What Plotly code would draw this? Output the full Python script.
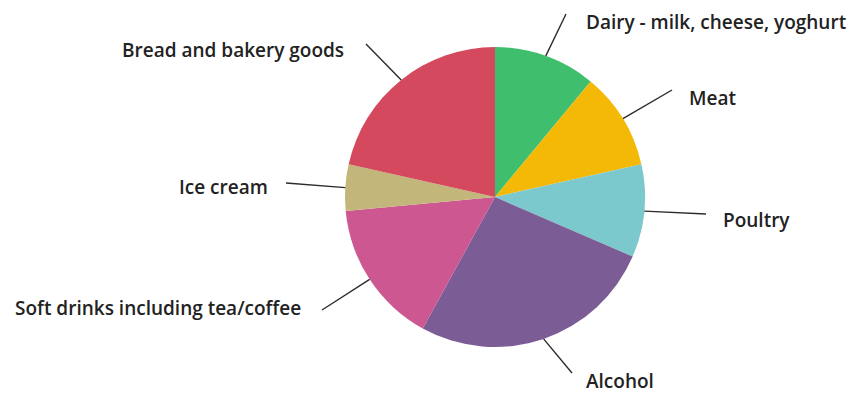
import math
import plotly.graph_objects as go

# Share of spending by food and drink category (%)
categories = [
    "Dairy - milk, cheese, yoghurt",
    "Meat",
    "Poultry",
    "Alcohol",
    "Soft drinks including tea/coffee",
    "Ice cream",
    "Bread and bakery goods",
]
shares = [11.0, 10.5, 10.0, 26.5, 15.5, 5.0, 21.5]
colors = ["#3fbf6d", "#f4b806", "#7bc9cd", "#7b5c95", "#cd5791", "#c3b67a", "#d4495d"]

W, H = 851, 394
CX, CY, R = 495, 197, 150  # pie centre and radius in pixels

# label placement: (line end x, line end y, text x, text y, anchor)
label_layout = [
    (566, 14, 584, 22, "left"),
    (672, 90, 687, 98, "left"),
    (706, 214, 721, 220, "left"),
    (572, 373, 584, 381, "left"),
    (322, 310, 303, 308, "right"),
    (286, 183, 270, 187, "right"),
    (366, 44, 346, 50, "right"),
]

fig = go.Figure(
    go.Pie(
        labels=categories,
        values=shares,
        sort=False,
        direction="clockwise",
        rotation=0,
        marker=dict(colors=colors, line=dict(width=0)),
        textinfo="none",
        hoverinfo="label+percent",
        domain=dict(x=[(CX - R) / W, (CX + R) / W], y=[1 - (CY + R) / H, 1 - (CY - R) / H]),
        showlegend=False,
    )
)


def px_to_paper(x, y):
    return x / W, 1 - y / H


total = sum(shares)
cum = 0.0
shapes, annotations = [], []
for name, val, (lx, ly, tx, ty, anchor) in zip(categories, shares, label_layout):
    mid = (cum + val / 2) / total * 2 * math.pi
    cum += val
    ex = CX + R * math.sin(mid)
    ey = CY - R * math.cos(mid)
    x0, y0 = px_to_paper(ex, ey)
    x1, y1 = px_to_paper(lx, ly)
    shapes.append(dict(type="line", xref="paper", yref="paper", x0=x0, y0=y0, x1=x1, y1=y1,
                       line=dict(color="#2b2b2b", width=1.4)))
    ax, ay = px_to_paper(tx, ty)
    annotations.append(dict(text=name, x=ax, y=ay, xref="paper", yref="paper", showarrow=False,
                            xanchor=anchor, yanchor="middle",
                            font=dict(family="Open Sans", size=19, color="#222222", weight=600)))

fig.update_layout(
    width=W, height=H,
    margin=dict(l=0, r=0, t=0, b=0),
    paper_bgcolor="white", plot_bgcolor="white",
    shapes=shapes, annotations=annotations,
)

fig.write_html("out.html")
